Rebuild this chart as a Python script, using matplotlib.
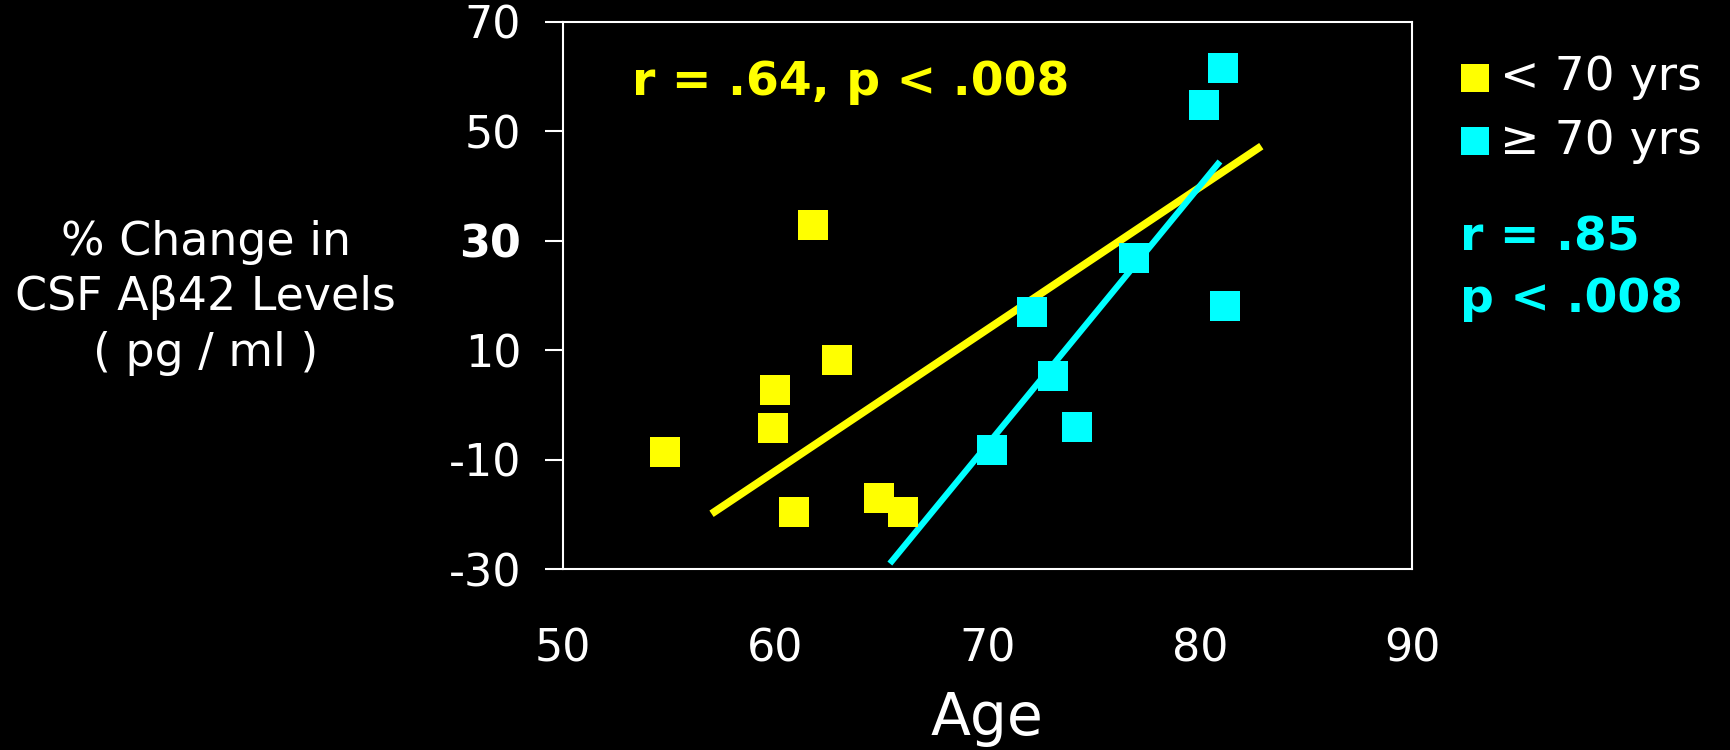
import matplotlib
matplotlib.use("Agg")
import matplotlib.pyplot as plt

# Data: age vs % change in CSF Abeta42
young_age = [54.8, 59.9, 60.0, 60.9, 61.8, 62.9, 64.9, 66.0]
young_chg = [-8.6, -4.2, 2.7, -19.5, 32.9, 8.3, -17.1, -19.5]

old_age = [70.2, 72.1, 73.1, 74.2, 76.9, 80.2, 81.1, 81.2]
old_chg = [-8.2, 17.0, 5.3, -4.0, 26.9, 54.9, 61.5, 18.0]

# regression lines as drawn (end points)
young_fit_age = [57.0, 82.9]
young_fit_chg = [-19.9, 47.3]
old_fit_age = [65.4, 80.95]
old_fit_chg = [-29.0, 44.5]

x_ticks = [50, 60, 70, 80, 90]
y_ticks = [-30, -10, 10, 30, 50, 70]

YELLOW = "#ffff00"
CYAN = "#00ffff"

plt.rcParams['font.family'] = ['DejaVu Sans']
plt.rcParams['axes.unicode_minus'] = False

fig = plt.figure(figsize=(17.3, 7.5), dpi=100, facecolor="black")
ax = fig.add_axes([0.3254, 0.2413, 0.4908, 0.7294])
ax.set_facecolor("black")

ax.plot(young_fit_age, young_fit_chg, color=YELLOW, lw=5.5, solid_capstyle="butt", zorder=2)
ax.plot(old_fit_age, old_fit_chg, color=CYAN, lw=4.5, solid_capstyle="butt", zorder=2)

h1 = ax.scatter(young_age, young_chg, marker="s", s=450, color=YELLOW, linewidths=0,
                zorder=3, label="< 70 yrs")
h2 = ax.scatter(old_age, old_chg, marker="s", s=450, color=CYAN, linewidths=0,
                zorder=3, label="\u2265 70 yrs")

ax.set_xlim(50, 90)
ax.set_ylim(-30, 70)
ax.set_xticks(x_ticks)
ax.set_yticks(y_ticks)
for sp in ax.spines.values():
    sp.set_color("white")
    sp.set_linewidth(1.5)

ax.tick_params(axis="y", colors="white", labelsize=32, length=13, width=1.5, pad=17)
ax.tick_params(axis="x", colors="white", labelsize=32, length=0, pad=42)
for lab in ax.get_yticklabels():
    if lab.get_text() == "30":
        lab.set_fontweight("bold")

ax.set_xlabel("Age", color="white", fontsize=42, labelpad=14)

fig.text(0.119, 0.603, "% Change in\nCSF A\u03b242 Levels\n( pg / ml )", color="white",
         fontsize=33, ha="center", va="center", multialignment="center", linespacing=1.3)

ax.text(0.081, 0.89, "r = .64, p < .008", transform=ax.transAxes, color=YELLOW,
        fontsize=34, fontweight="bold", ha="left", va="center")

fig.text(1460 / 1730, 1 - 238 / 750, "r = .85", color=CYAN, fontsize=34,
         fontweight="bold", ha="left", va="center")
fig.text(1460 / 1730, 1 - 300 / 750, "p < .008", color=CYAN, fontsize=34,
         fontweight="bold", ha="left", va="center")

leg = ax.legend(handles=[h1, h2], loc="upper left", bbox_to_anchor=(1457 / 1730, 1 - 55 / 750),
                bbox_transform=fig.transFigure, frameon=False, fontsize=34,
                handlelength=0.75, handletextpad=0.15, labelspacing=0.4,
                borderpad=0, borderaxespad=0, markerscale=0.95)
for t in leg.get_texts():
    t.set_color("white")

fig.savefig("out.png", dpi=100, facecolor="black")
